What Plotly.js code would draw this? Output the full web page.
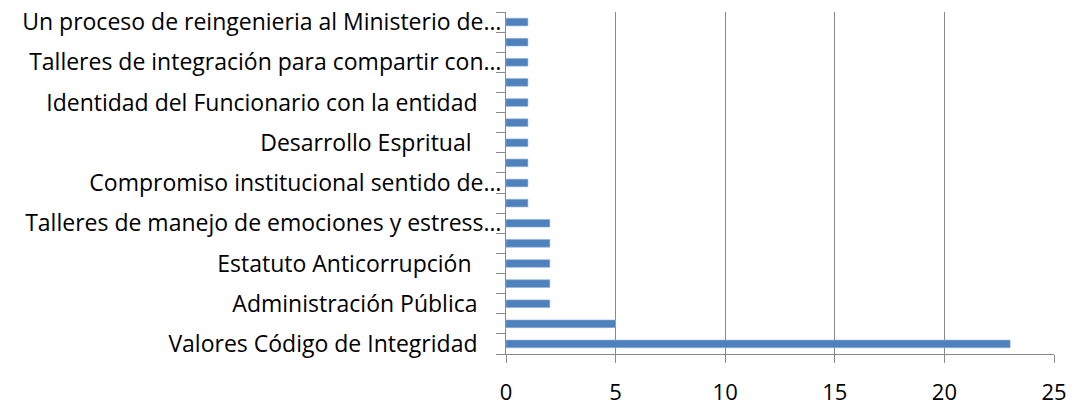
<!DOCTYPE html>
<html>
<head>
<meta charset="utf-8">
<script src="https://cdn.plot.ly/plotly-3.0.1.min.js"></script>
<style>html,body{margin:0;padding:0;background:#fff;}#chart{width:1083px;height:414px;}</style>
</head>
<body>
<div id="chart"></div>
<script>
// Categories listed bottom to top; hidden ones have no visible label in the reference
const categories = [
  "Valores Código de Integridad",
  "(sin etiqueta 1)",
  "Administración Pública",
  "(sin etiqueta 2)",
  "Estatuto Anticorrupción",
  "(sin etiqueta 3)",
  "Talleres de manejo de emociones y estress…",
  "(sin etiqueta 4)",
  "Compromiso institucional sentido de…",
  "(sin etiqueta 5)",
  "Desarrollo Espritual",
  "(sin etiqueta 6)",
  "Identidad del Funcionario con la entidad",
  "(sin etiqueta 7)",
  "Talleres de integración para compartir con…",
  "(sin etiqueta 8)",
  "Un proceso de reingenieria al Ministerio de…"
];
const values = [23, 5, 2, 2, 2, 2, 2, 1, 1, 1, 1, 1, 1, 1, 1, 1, 1];
const tickLabels = [
  "Valores Código de Integridad\u00a0\u00a0\u00a0\u00a0",
  "",
  "Administración Pública\u00a0\u00a0\u00a0\u00a0",
  "",
  "Estatuto Anticorrupción\u00a0\u00a0\u00a0\u00a0\u00a0",
  "",
  "Talleres de manejo de emociones y estress…",
  "",
  "Compromiso institucional sentido de…",
  "",
  "Desarrollo Espritual\u00a0\u00a0\u00a0\u00a0\u00a0",
  "",
  "Identidad del Funcionario con la entidad\u00a0\u00a0\u00a0\u00a0",
  "",
  "Talleres de integración para compartir con…",
  "",
  "Un proceso de reingenieria al Ministerio de…"
];
const xTicks = [0, 5, 10, 15, 20, 25];

const trace = {
  type: "bar",
  orientation: "h",
  y: categories,
  x: values,
  width: 0.38,
  marker: {color: "#4F81BD", line: {color: "#8DB0DD", width: 0.6}},
  hoverinfo: "x+y"
};

const layout = {
  width: 1083, height: 414,
  margin: {l: 506, r: 29, t: 12, b: 60},
  paper_bgcolor: "#fff", plot_bgcolor: "#fff",
  showlegend: false,
  font: {family: "'Open Sans', sans-serif", size: 23, color: "#000"},
  xaxis: {
    range: [0, 25],
    tickmode: "array", tickvals: xTicks, ticktext: xTicks.map(String),
    showgrid: true, gridcolor: "#898989", gridwidth: 1,
    zeroline: false,
    showline: true, linecolor: "#898989", linewidth: 1,
    ticks: "outside", ticklen: 8, tickcolor: "#898989",
    ticklabelstandoff: 11,
    tickfont: {size: 22, color: "#000"}
  },
  yaxis: {
    type: "category",
    categoryorder: "array", categoryarray: categories,
    range: [-0.5, categories.length - 0.5],
    tickmode: "array", tickvals: categories, ticktext: tickLabels,
    tickson: "boundaries",
    showgrid: false, zeroline: false,
    showline: true, linecolor: "#898989", linewidth: 1,
    ticks: "outside", ticklen: 9, tickcolor: "#898989",
    ticklabelstandoff: -1,
    tickfont: {size: 23, color: "#000"}
  }
};

Plotly.newPlot("chart", [trace], layout, {displayModeBar: false, staticPlot: true});
</script>
</body>
</html>
